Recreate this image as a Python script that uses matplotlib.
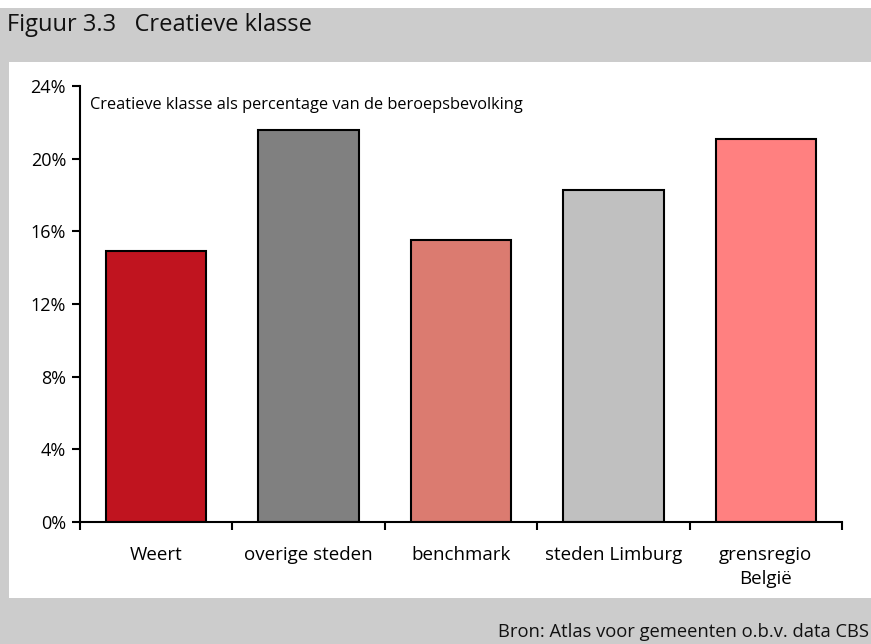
import matplotlib
matplotlib.use("Agg")

import matplotlib.pyplot as plt
from matplotlib.patches import Rectangle
from matplotlib.ticker import FuncFormatter, FixedLocator

plt.rcParams["font.family"] = ["Open Sans", "DejaVu Sans"]

# Data
categories = ["Weert", "overige steden", "benchmark", "steden Limburg", "grensregio\nBelgië"]
values = [14.9, 21.6, 15.5, 18.3, 21.1]
colors = ["#c0141f", "#808080", "#db7b70", "#c0c0c0", "#ff8080"]
yticks = [0, 4, 8, 12, 16, 20, 24]

W, H = 871, 644
fig = plt.figure(figsize=(W / 100, H / 100), dpi=100)
fig.patch.set_facecolor("white")

# gray frame and white chart panel
fig.patches.append(Rectangle((0, 0), 1, 1 - 8 / H, transform=fig.transFigure,
                             facecolor="#cccccc", edgecolor="none", zorder=-3))
fig.patches.append(Rectangle((9 / W, 1 - 598 / H), 1, (598 - 62) / H, transform=fig.transFigure,
                             facecolor="white", edgecolor="none", zorder=-2))

fig.text(7 / W, 1 - 25 / H, "Figuur 3.3   Creatieve klasse", fontsize=17,
         va="center", ha="left", color="#111111")
fig.text(1 - 2 / W, 1 - 632 / H, "Bron: Atlas voor gemeenten o.b.v. data CBS", fontsize=13.2,
         va="center", ha="right", color="#111111")

ax = fig.add_axes([80 / W, 1 - 522 / H, (842 - 80) / W, (522 - 86) / H])
ax.set_facecolor("none")
x = list(range(len(categories)))
ax.bar(x, values, width=0.66, color=colors, edgecolor="black", linewidth=1.5)

ax.set_xlim(-0.5, len(categories) - 0.5)
ax.set_ylim(0, 24)
ax.set_yticks(yticks)
ax.yaxis.set_major_formatter(FuncFormatter(lambda v, p: f"{v:.0f}%"))

ax.xaxis.set_major_locator(FixedLocator([i - 0.5 for i in range(len(categories) + 1)]))
ax.xaxis.set_minor_locator(FixedLocator(x))
ax.set_xticklabels([])
ax.set_xticklabels(categories, minor=True, linespacing=1.45)
ax.tick_params(axis="x", which="minor", length=0, pad=17, labelsize=13.5)
ax.tick_params(axis="x", which="major", length=6, width=1.5, direction="out")
ax.tick_params(axis="y", length=6, width=1.5, direction="out", labelsize=13, pad=4)

for s in ["top", "right"]:
    ax.spines[s].set_visible(False)
for s in ["left", "bottom"]:
    ax.spines[s].set_linewidth(1.5)

ax.text(0.013, 0.975, "Creatieve klasse als percentage van de beroepsbevolking",
        transform=ax.transAxes, fontsize=11.8, va="top", ha="left")

fig.savefig("out.png", dpi=100)
